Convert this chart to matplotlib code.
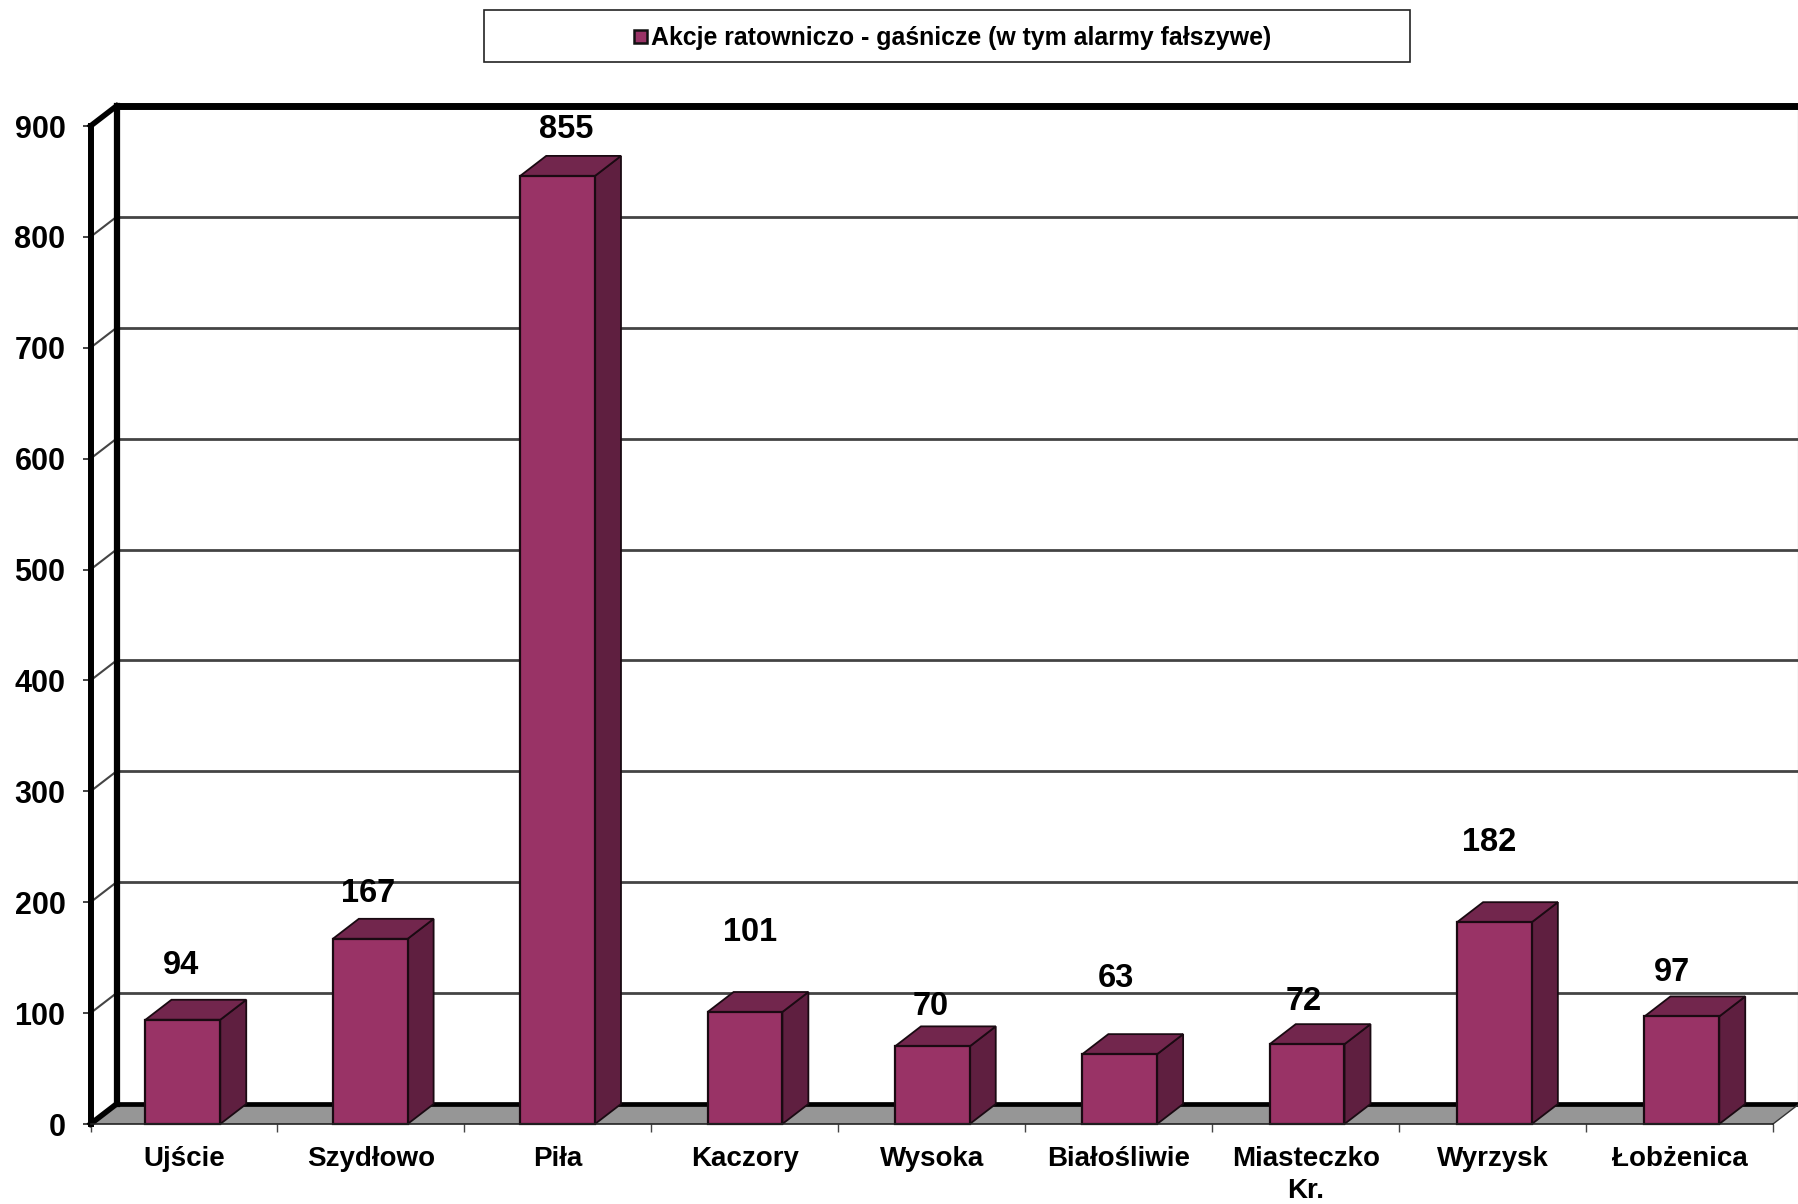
# Bar chart with fake 3D look, number of rescue actions per municipality
import matplotlib
matplotlib.use("Agg")
import matplotlib.pyplot as plt
from matplotlib.patches import Polygon, Rectangle

plt.rcParams['font.family'] = ['Liberation Sans', 'DejaVu Sans']
plt.rcParams['font.weight'] = 'bold'

categories = ['Ujście', 'Szydłowo', 'Piła', 'Kaczory', 'Wysoka', 'Białośliwie', 'Miasteczko\nKr.', 'Wyrzysk', 'Łobżenica']
values = [94, 167, 855, 101, 70, 63, 72, 182, 97]
y_ticks = [0, 100, 200, 300, 400, 500, 600, 700, 800, 900]
legend_text = 'Akcje ratowniczo - gaśnicze (w tym alarmy fałszywe)'

# Manual shift of value labels in pixels (x, y above the bar front)
label_shift = [(-3, 54), (-3, 45), (8, 46), (5, 80), (-1, 40), (-3, 76), (-2, 43), (-3, 80), (-8, 44)]

FRONT = '#993366'
TOP = '#72264d'
SIDE = '#5f1f40'
FLOOR = '#969696'
W, H = 1798, 1204

fig = plt.figure(figsize=(W / 100, H / 100), dpi=100)
# Axes box is the front plane of the chart
left, right, bottom, top = 90.5, 1773, 1124, 126
ax = fig.add_axes([left / W, 1 - bottom / H, (right - left) / W, (bottom - top) / H])
ax.set_xlim(-0.5, 8.5)
ax.set_ylim(0, 900)
ax.patch.set_alpha(0)
for name in ['top', 'right']:
    ax.spines[name].set_visible(False)
ax.spines['left'].set_linewidth(4.3)
ax.spines['left'].set_zorder(6)
ax.spines['bottom'].set_linewidth(1.2)
ax.spines['bottom'].set_color('#222222')
ax.spines['bottom'].set_zorder(6)

# Depth of the fake 3D in data units
dx = 26 / ((right - left) / 9)
dy = 20 / ((bottom - top) / 900)
x_end = 8.5

# Back wall grid lines, also running over the left wall
for tick in y_ticks[1:-1]:
    ax.plot([-0.5 + dx, x_end + dx], [tick + dy, tick + dy], color='#444444', lw=2.0, clip_on=False, zorder=1)
    ax.plot([-0.5, -0.5 + dx], [tick, tick + dy], color='#444444', lw=1.5, clip_on=False, zorder=1)

# Floor
floor = Polygon([(-0.5, 0), (x_end, 0), (x_end + dx, dy), (-0.5 + dx, dy)], closed=True,
                facecolor=FLOOR, edgecolor='none', clip_on=False, zorder=2)
ax.add_patch(floor)
ax.plot([-0.5 + dx, x_end + dx], [dy, dy], color='black', lw=3.4, clip_on=False, zorder=3, solid_capstyle='butt')
ax.plot([x_end, x_end + dx], [0, dy], color='#333333', lw=1, clip_on=False, zorder=3)

# Walls outline
ax.plot([-0.5 + dx, -0.5 + dx], [0 + dy, 900 + dy], color='black', lw=4.5, clip_on=False, zorder=3)
ax.plot([-0.5 + dx, x_end + dx], [900 + dy, 900 + dy], color='black', lw=5, clip_on=False, zorder=3)
ax.plot([-0.5, -0.5 + dx], [900, 900 + dy], color='black', lw=4, clip_on=False, zorder=3)
ax.plot([-0.5, -0.5 + dx], [0, dy], color='black', lw=4, clip_on=False, zorder=3)
ax.plot([x_end + dx, x_end + dx], [dy, 900 + dy], color='#333333', lw=1.5, clip_on=False, zorder=3)

# Bars, their spacing is a bit wider than the tick spacing in the source chart
bar_w = 0.4
bar_off = -0.006
bar_step = 1.0023
xs = list(range(len(values)))
bar_x = [x * bar_step + bar_off for x in xs]
ax.bar(bar_x, values, width=bar_w, color=FRONT, edgecolor='#1a0a12', linewidth=1.6, zorder=5, clip_on=False)
for x, bx, v, shift in zip(xs, bar_x, values, label_shift):
    x0, x1 = bx - bar_w / 2, bx + bar_w / 2
    ax.add_patch(Polygon([(x1, 0), (x1 + dx, dy), (x1 + dx, v + dy), (x1, v)], closed=True, facecolor=SIDE,
                         edgecolor='#1a0a12', linewidth=1.3, zorder=4, clip_on=False))
    ax.add_patch(Polygon([(x0, v), (x1, v), (x1 + dx, v + dy), (x0 + dx, v + dy)], closed=True, facecolor=TOP,
                         edgecolor='#1a0a12', linewidth=1.3, zorder=4, clip_on=False))
    ax.annotate(str(v), (x, v), xytext=shift, textcoords='offset pixels', ha='center', va='center',
                fontsize=23.5, fontweight='bold', color='black', zorder=7, annotation_clip=False)

# Ticks
ax.set_yticks(y_ticks)
ax.tick_params(axis='y', length=6, width=1.2, pad=12, labelsize=22, color='#222222')
ax.set_xticks([i - 0.5 for i in range(len(categories) + 1)])
ax.set_xticklabels([])
ax.tick_params(axis='x', which='major', length=6, width=1.0, color='#444444')
ax.set_xticks(xs, minor=True)
ax.set_xticklabels(categories, minor=True, fontsize=20, fontweight='bold', linespacing=1.3)
ax.tick_params(axis='x', which='minor', length=0, pad=15.5)

# Legend box on top
fig.add_artist(Rectangle((484 / W, 1 - 62 / H), 926 / W, 52 / H, transform=fig.transFigure,
                         facecolor='white', edgecolor='#222222', linewidth=1.2))
fig.add_artist(Rectangle((634 / W, 1 - 43 / H), 13 / W, 13 / H, transform=fig.transFigure,
                         facecolor=FRONT, edgecolor='#111111', linewidth=1.8))
fig.text(651 / W, 1 - 38.5 / H, legend_text, ha='left', va='center', fontsize=17.9, fontweight='bold')

fig.savefig('out.png', dpi=100)
plt.close(fig)
